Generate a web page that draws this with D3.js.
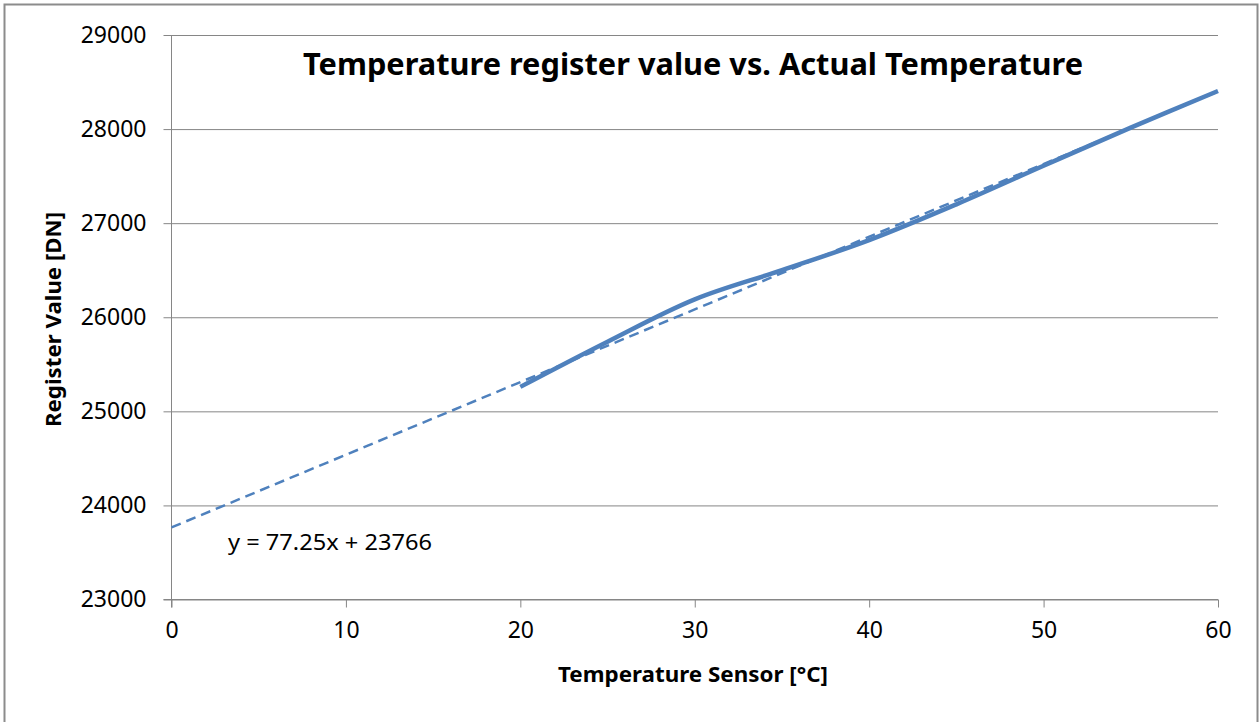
<!DOCTYPE html>
<html>
<head>
<meta charset="utf-8">
<script src="https://cdn.jsdelivr.net/npm/d3@7"></script>
<style>
  body { margin: 0; background: #fff; }
  text { font-family: "Noto Sans", "Open Sans", sans-serif; fill: #000; }
</style>
</head>
<body>
<div id="chart"></div>
<script>
'use strict';

// measured points (temperature in °C, register value in DN)
var temps  = [20, 25, 30, 35, 40, 45, 50, 55, 60];
var regVal = [25260, 25740, 26190, 26500, 26820, 27200, 27610, 28015, 28405];

// linear trendline shown on the chart
var trendSlope = 77.25;
var trendIntercept = 23766;
var trendLabel = 'y = 77.25x + 23766';

var xTicks = [0, 10, 20, 30, 40, 50, 60];
var yTicks = [23000, 24000, 25000, 26000, 27000, 28000, 29000];

var tempChart = {};
tempChart.margins = {top: 35, left: 171.5};
tempChart.cw = 1046.5;
tempChart.ch = 564.5;
tempChart.blue = '#4f81bd';
tempChart.gridColor = '#868686';

tempChart.appendSvg = function (div)
{
    var svg = d3.select(div).append('svg')
        .attr('width', 1260)
        .attr('height', 722);
    svg.append('rect')
        .attr('x', 4.5).attr('y', 4.5)
        .attr('width', 1253).attr('height', 730)
        .attr('fill', '#fff')
        .attr('stroke', '#8c8c8c')
        .attr('stroke-width', 2);
    return svg;
}

tempChart.createAxes = function (svg)
{
    tempChart.xScale = d3.scaleLinear().domain([0, 60]).range([0, tempChart.cw]);
    tempChart.yScale = d3.scaleLinear().domain([23000, 29000]).range([tempChart.ch, 0]);

    var g = svg.append('g')
        .attr('transform', 'translate(' + tempChart.margins.left + ',' + tempChart.margins.top + ')');

    // horizontal gridlines + y axis
    var yAxis = d3.axisLeft(tempChart.yScale)
        .tickValues(yTicks)
        .tickSize(-tempChart.cw)
        .tickPadding(25)
        .tickFormat(d3.format('d'));
    var yg = g.append('g').attr('class', 'yAxis').call(yAxis);
    yg.select('.domain').remove();
    yg.selectAll('.tick line')
        .attr('x1', -8)
        .attr('stroke', tempChart.gridColor);
    yg.selectAll('.tick text')
        .attr('font-size', 23)
        .attr('fill', '#000');

    var xAxis = d3.axisBottom(tempChart.xScale)
        .tickValues(xTicks)
        .tickSize(8)
        .tickPadding(14);
    var xg = g.append('g').attr('class', 'xAxis')
        .attr('transform', 'translate(0,' + tempChart.ch + ')')
        .call(xAxis);
    xg.select('.domain').remove();
    xg.selectAll('.tick line').attr('stroke', tempChart.gridColor);
    xg.selectAll('.tick text')
        .attr('font-size', 23)
        .attr('fill', '#000');

    // axis lines
    g.append('line')
        .attr('x1', 0).attr('x2', 0)
        .attr('y1', 0).attr('y2', tempChart.ch + 8)
        .attr('stroke', tempChart.gridColor);
    g.append('line')
        .attr('x1', -8).attr('x2', tempChart.cw)
        .attr('y1', tempChart.ch).attr('y2', tempChart.ch)
        .attr('stroke', tempChart.gridColor);
    return g;
}

tempChart.appendTrend = function (g)
{
    var dom = tempChart.xScale.domain();
    var pts = dom.map(function (x) { return {x: x, y: trendSlope * x + trendIntercept}; });
    var line = d3.line()
        .x(function (d) { return tempChart.xScale(d.x); })
        .y(function (d) { return tempChart.yScale(d.y); });
    g.append('path')
        .attr('d', line(pts))
        .attr('fill', 'none')
        .attr('stroke', tempChart.blue)
        .attr('stroke-width', 2.5)
        .attr('stroke-dasharray', '10,6');
}

tempChart.appendCurve = function (g)
{
    var dataset = temps.map(function (t, i) { return {x: t, y: regVal[i]}; });
    var line = d3.line()
        .x(function (d) { return tempChart.xScale(d.x); })
        .y(function (d) { return tempChart.yScale(d.y); })
        .curve(d3.curveCatmullRom.alpha(0.5));
    g.append('path')
        .attr('d', line(dataset))
        .attr('fill', 'none')
        .attr('stroke', tempChart.blue)
        .attr('stroke-width', 4.5)
        .attr('stroke-linecap', 'butt');
}

tempChart.appendTexts = function (svg)
{
    svg.append('text')
        .attr('x', 303).attr('y', 75)
        .attr('font-size', 31)
        .attr('font-weight', 'bold')
        .attr('textLength', 780)
        .attr('lengthAdjust', 'spacingAndGlyphs')
        .text('Temperature register value vs. Actual Temperature');

    svg.append('text')
        .attr('x', 558).attr('y', 682)
        .attr('font-size', 21)
        .attr('font-weight', 'bold')
        .attr('textLength', 270)
        .attr('lengthAdjust', 'spacingAndGlyphs')
        .text('Temperature Sensor [°C]');

    svg.append('text')
        .attr('transform', 'translate(61,427) rotate(-90)')
        .attr('font-size', 21)
        .attr('font-weight', 'bold')
        .attr('textLength', 215)
        .attr('lengthAdjust', 'spacingAndGlyphs')
        .text('Register Value [DN]');

    svg.append('text')
        .attr('x', 228).attr('y', 550)
        .attr('font-size', 21)
        .attr('textLength', 204)
        .attr('lengthAdjust', 'spacingAndGlyphs')
        .text(trendLabel);
}

function drawChart(div)
{
    d3.select(div).select('svg').remove();
    var svg = tempChart.appendSvg(div);
    var g = tempChart.createAxes(svg);
    tempChart.appendTrend(g);
    tempChart.appendCurve(g);
    tempChart.appendTexts(svg);
}

drawChart('#chart');
</script>
</body>
</html>
